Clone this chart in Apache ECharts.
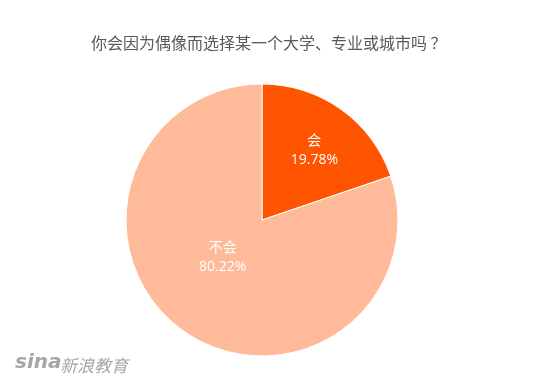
<!DOCTYPE html>
<html>
<head>
<meta charset="utf-8">
<script src="https://cdn.jsdelivr.net/npm/echarts@6/dist/echarts.min.js"></script>
<style>
  html, body { margin: 0; padding: 0; background: #fff; }
  #main { width: 550px; height: 392px; }
</style>
</head>
<body>
<div id="main"></div>
<script>
let titleText = "你会因为偶像而选择某一个大学、专业或城市吗 ？";
let names = ["会", "不会"];
let values = [19.78, 80.22];
let colors = ["#FF5500", "#FFBB99"];
let labelOffsets = [[11, -12], [2, -20]]; // 标签微调

let pieData = [];
for (let i = 0; i < names.length; i++) {
    pieData.push({
        name: names[i],
        value: values[i],
        itemStyle: { color: colors[i] },
        label: { offset: labelOffsets[i] }
    });
}

var myChart = echarts.init(document.getElementById('main'));
var option = {
    animation: false,
    title: {
        text: titleText,
        left: 86,
        top: 30,
        textStyle: {
            fontSize: 16,
            fontWeight: 'normal',
            color: '#595959',
            fontFamily: 'Noto Sans CJK SC'
        }
    },
    graphic: [
        {
            type: 'text',
            left: 15,
            top: 353,
            style: {
                text: 'sina',
                font: 'italic bold 20px "DejaVu Sans"',
                fill: '#a6a6a6'
            }
        },
        {
            type: 'text',
            left: 60,
            top: 357,
            style: {
                text: '新浪教育',
                font: 'italic 17px "Noto Sans CJK SC"',
                fill: '#a6a6a6'
            }
        }
    ],
    series: [{
        type: 'pie',
        center: [262, 220],
        radius: [0, 136],
        startAngle: 90,
        clockwise: true,
        itemStyle: {
            borderColor: '#fff',
            borderWidth: 1
        },
        label: {
            show: true,
            position: 'inside',
            color: '#fff',
            fontSize: 14,
            lineHeight: 19,
            fontFamily: 'Open Sans, Noto Sans CJK SC',
            formatter: function (p) {
                return p.name + '\n' + p.value.toFixed(2) + '%';
            }
        },
        labelLine: { show: false },
        emphasis: { disabled: true },
        data: pieData
    }]
};
myChart.setOption(option);
</script>
</body>
</html>
